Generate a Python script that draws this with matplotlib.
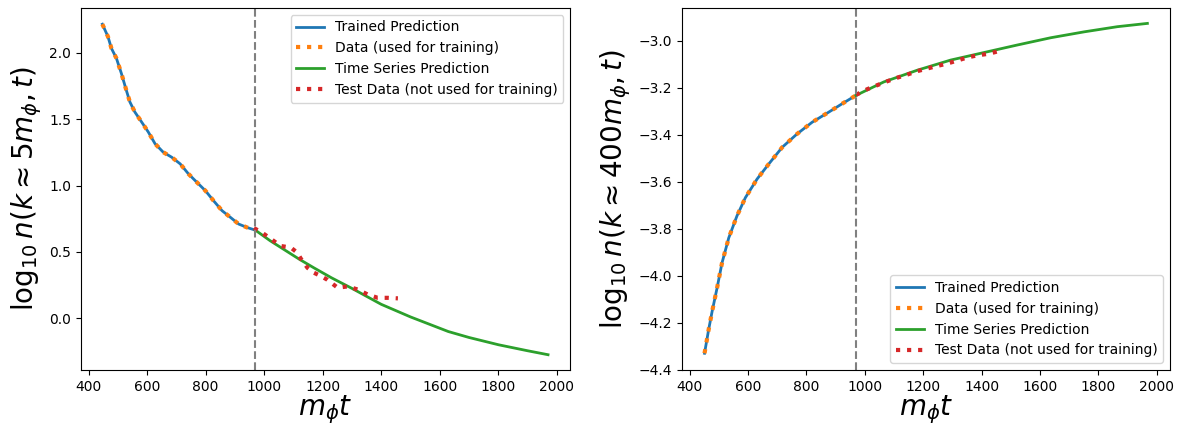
import matplotlib
matplotlib.use("Agg")
from matplotlib import pyplot as plt

# left panel, k ~ 5 m_phi
train_t_5 = [447, 466, 478, 495, 512, 527, 541, 558, 581, 604, 627, 655, 684, 713,
             741, 770, 799, 827, 856, 885, 913, 942, 970]
train_n_5 = [2.217, 2.124, 2.035, 1.96, 1.846, 1.733, 1.631, 1.555, 1.48, 1.404, 1.316, 1.252, 1.214, 1.164,
             1.089, 1.025, 0.962, 0.886, 0.811, 0.76, 0.71, 0.684, 0.664]
pred_t_5 = [970, 1020, 1070, 1120, 1170, 1230, 1300, 1400, 1500, 1629, 1700, 1801, 1900, 1970]
pred_n_5 = [0.664, 0.585, 0.515, 0.445, 0.38, 0.305, 0.225, 0.105, 0.01, -0.10, -0.145, -0.20, -0.245, -0.275]
test_t_5 = [965, 993, 1022, 1056, 1091, 1113, 1125, 1148, 1170, 1194, 1216, 1251, 1285, 1319,
            1353, 1388, 1422, 1457]
test_n_5 = [0.68, 0.645, 0.60, 0.545, 0.533, 0.495, 0.45, 0.38, 0.343, 0.318, 0.29, 0.23, 0.24, 0.217,
            0.18, 0.154, 0.154, 0.15]

# right panel, k ~ 400 m_phi
train_t_400 = [451, 465, 477, 494, 511, 534, 562, 591, 631, 671, 717, 768, 820, 877, 922, 970]
train_n_400 = [-4.329, -4.229, -4.151, -4.051, -3.944, -3.838, -3.745, -3.667, -3.588, -3.524,
               -3.453, -3.396, -3.346, -3.303, -3.268, -3.232]
pred_t_400 = [970, 1065, 1180, 1294, 1408, 1522, 1637, 1751, 1865, 1968]
pred_n_400 = [-3.232, -3.175, -3.125, -3.082, -3.050, -3.018, -2.987, -2.962, -2.94, -2.926]
test_t_400 = [970, 1008, 1042, 1077, 1111, 1145, 1180, 1214, 1248, 1282, 1317, 1351, 1385, 1425, 1459]
test_n_400 = [-3.23, -3.206, -3.189, -3.172, -3.157, -3.144, -3.129, -3.118, -3.107, -3.097,
              -3.084, -3.071, -3.062, -3.055, -3.044]

t_split = 970

fig = plt.figure(figsize=(11.79, 4.26), dpi=100)
ax1 = fig.add_axes([0.0687, 0.1315, 0.415, 0.85])
ax2 = fig.add_axes([0.5785, 0.1315, 0.414, 0.85])

panels = [
    (ax1, train_t_5, train_n_5, pred_t_5, pred_n_5, test_t_5, test_n_5,
     r"$\log_{10} n(k \approx 5 m_\phi, t)$", "upper right", (-0.39, 2.34)),
    (ax2, train_t_400, train_n_400, pred_t_400, pred_n_400, test_t_400, test_n_400,
     r"$\log_{10} n(k \approx 400 m_\phi, t)$", "lower right", (-4.40, -2.86)),
]

for ax, tt, nt, tp, np_, ts, ns, ylab, loc, ylim in panels:
    ax.plot(tt, nt, c="tab:blue", lw=2, label="Trained Prediction")
    ax.plot(tt, nt, c="tab:orange", lw=3, ls=":", label="Data (used for training)")
    ax.plot(tp, np_, c="tab:green", lw=2, label="Time Series Prediction")
    ax.plot(ts, ns, c="tab:red", lw=3, ls=":", label="Test Data (not used for training)")
    ax.axvline(t_split, c="gray", ls="--")
    ax.set_xlabel(r"$m_\phi t$", fontsize=20, labelpad=0)
    ax.set_ylabel(ylab, fontsize=20)
    ax.set_xticks([400, 600, 800, 1000, 1200, 1400, 1600, 1800, 2000])
    ax.set_xlim(374, 2046)
    ax.set_ylim(*ylim)
    ax.legend(loc=loc)

fig.savefig("out.png")
